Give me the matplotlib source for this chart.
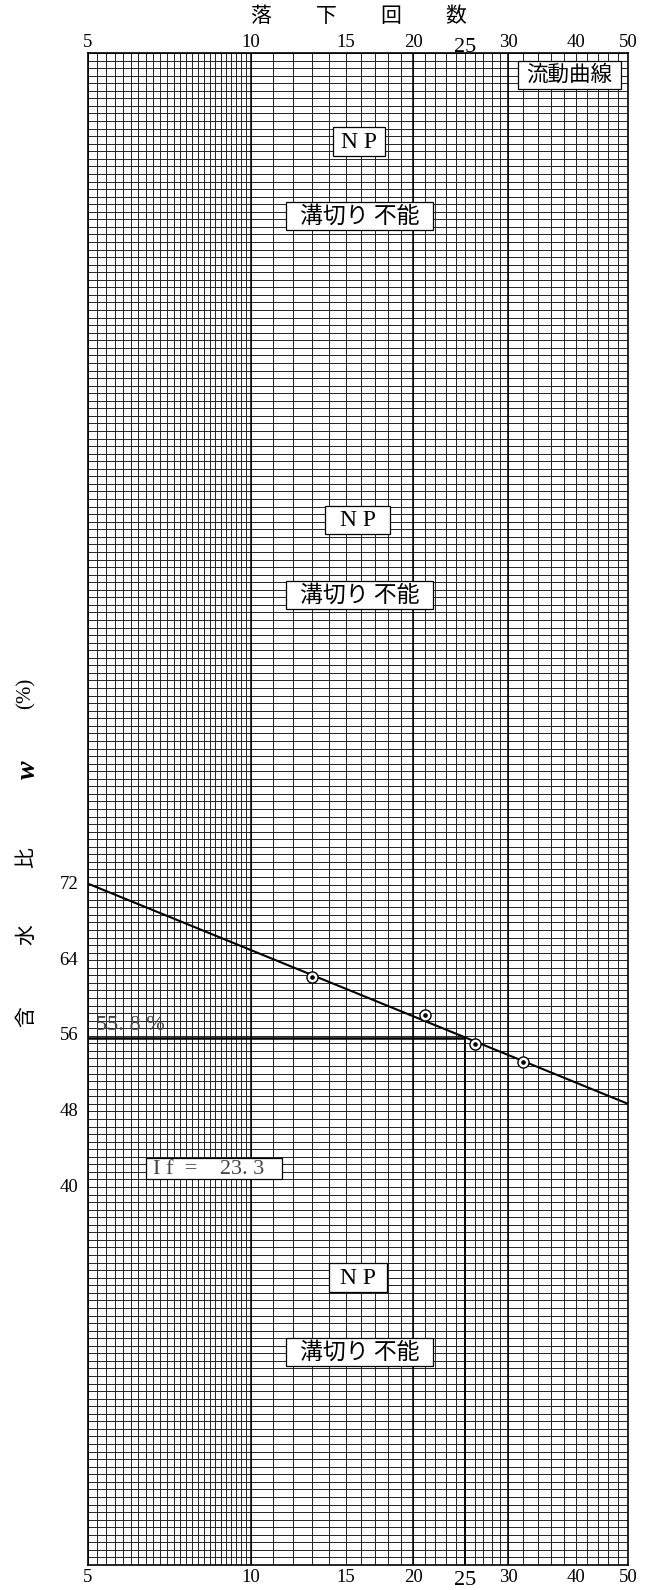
import numpy as np
import matplotlib
matplotlib.use("Agg")
import matplotlib.pyplot as plt
from matplotlib.patches import Rectangle

# data
blows = [13, 21, 26, 32]
water = [62.2, 58.2, 55.1, 53.2]
flow_line_n = [5, 50]
flow_line_w = [72.1, 48.8]
liquid_limit = 55.8
ll_blows = 25
flow_index = 23.3
x_ticks = [5, 10, 15, 20, 25, 30, 40, 50]
x_tick_labels = ["5", "10", "15", "20", "25", "30", "40", "50"]
y_ticks = [40, 48, 56, 64, 72]

W, H = 652, 1590
serif = ["Liberation Serif", "DejaVu Serif"]
cjk = ["Noto Sans CJK JP", "DejaVu Sans"]


def px(x, y):
    return x / W, 1 - y / H


fig = plt.figure(figsize=(W / 100, H / 100), dpi=100)
ax = fig.add_axes([88 / W, (H - 1565) / H, 540 / W, 1512 / H])
ax.set_xscale("log")
ax.set_xlim(5, 50)
ax.set_ylim(0, 160)

# graph paper grid
xg = np.concatenate([np.arange(5, 10, 0.2), np.arange(10, 30, 1), np.arange(30, 50.01, 2)])
yg = np.arange(0, 160.01, 0.8)
ax.vlines(xg, 0, 160, colors="#222222", lw=0.7, zorder=1)
ax.hlines(yg, 5, 50, colors="#222222", lw=0.7, zorder=1)
ax.vlines([10, 20, 30], 0, 160, colors="black", lw=1.1, zorder=1)

# flow curve
ax.plot(flow_line_n, flow_line_w, color="black", lw=1.5, zorder=3)
ax.hlines(liquid_limit, 5, ll_blows, colors="black", lw=1.8, zorder=3)
ax.vlines(ll_blows, 0, liquid_limit, colors="black", lw=1.4, zorder=3)
ax.plot(blows, water, "o", ms=8, mfc="white", mec="black", mew=1.0, zorder=4)
ax.plot(blows, water, "o", ms=2.3, color="black", zorder=5)

for s in ax.spines.values():
    s.set_linewidth(1.2)

ax.set_xticks(x_ticks)
ax.set_xticks([], minor=True)
ax.set_xticklabels([], minor=False)
ax.tick_params(axis="x", which="both", length=0)
# tick numbers on both edges; "25" is printed larger
xt = ax.get_xaxis_transform()
for v, lbl in zip(x_ticks, x_tick_labels):
    big = lbl == "25"
    size = 16 if big else 13.5
    ax.annotate(lbl, (v, 1.0), xycoords=xt, xytext=(0, 1.0 if big else 4.6),
                textcoords="offset points", ha="center", va="baseline",
                family=serif, fontsize=size, annotation_clip=False)
    ax.annotate(lbl, (v, 0.0), xycoords=xt, xytext=(0, -4 if big else -3),
                textcoords="offset points", ha="center", va="top",
                family=serif, fontsize=size, annotation_clip=False)
ax.set_yticks(y_ticks)
ax.set_yticklabels([str(v) for v in y_ticks], fontfamily=serif, fontsize=13.5)
ax.tick_params(axis="y", length=0, pad=7)
for lab in ax.get_yticklabels():
    lab.set_va("center")

# top axis title
for ch, x in zip("落下回数", [261, 326, 391, 456]):
    fig.text(*px(x, 16), ch, family=cjk, fontsize=15, ha="center", va="center")

# y axis title (rotated)
for ch, y in zip(["含", "水", "比"], [1017, 935, 858]):
    fig.text(*px(26, y), ch, family=cjk, fontsize=15, rotation=90, ha="center", va="center")
fig.text(*px(28, 770), "w", family=serif, fontsize=20, style="italic", weight="bold",
         rotation=90, ha="center", va="center")
fig.text(*px(26, 693), "(%)", family=serif, fontsize=15, rotation=90, ha="center", va="center")


def label_box(x0, y0, x1, y1, text, family, size, dy=0, color="black"):
    fig.add_artist(Rectangle(px(x0, y1), (x1 - x0) / W, (y1 - y0) / H,
                             transform=fig.transFigure, fc="white", ec="black",
                             lw=0.9, zorder=6))
    fig.text(*px((x0 + x1) / 2, (y0 + y1) / 2 + dy), text, family=family,
             fontsize=size, ha="center", va="center", color=color, zorder=7)


label_box(333, 127, 385, 156, "N P", serif, 17, dy=1)
label_box(325, 506, 390, 534, "N P", serif, 17, dy=1)
label_box(329, 1263, 387, 1292, "N P", serif, 17, dy=1)
for y0 in [202, 581, 1338]:
    label_box(286, y0, 433, y0 + 28, "溝切り 不能", cjk, 16.5)
label_box(518, 61, 621, 89, "流動曲線", cjk, 15.5)
label_box(146, 1158, 282, 1179, "I f  =    %s. %s  " % tuple(str(flow_index).split(".")),
          serif, 16, dy=1, color="#444444")

fig.text(*px(96, 1026), "55. 8 %", family=serif, fontsize=16, color="#444444",
         ha="left", va="center", zorder=6)

fig.savefig("out.png", dpi=100)
